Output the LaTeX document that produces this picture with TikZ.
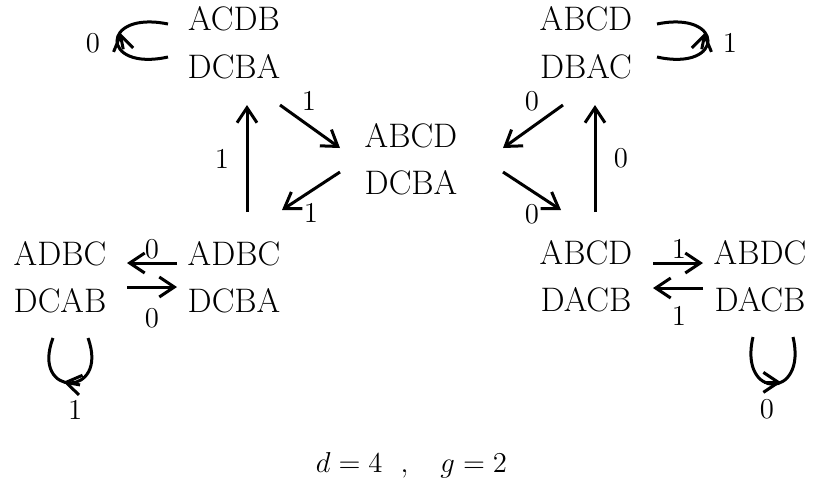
\documentclass[tikz,border=0pt]{standalone}
\usepackage{tikz}
\usetikzlibrary{arrows.meta}
\tikzset{
    perm/.style={
        align=center,inner sep=0pt,outer sep=0pt,
        font=\fontsize{17}{23.75}\selectfont
    },
    lab/.style={inner sep=0pt,font=\fontsize{14.4}{16}\selectfont},
    edge/.style={line width=1.5pt,->},
    plain/.style={line width=1.5pt},
    >={Straight Barb[length=7.5pt,width=10pt]}
}
\begin{document}
\begin{tikzpicture}[x=0.5pt,y=-0.5pt]
\useasboundingbox (0,0) rectangle (815,484);
% states
\node[perm] (tl)  at (234,42.5) {ACDB\\DCBA};
\node[perm] (tr)  at (586,42.5) {ABCD\\DBAC};
\node[perm] (mid) at (411,159)  {ABCD\\DCBA};
\node[perm] (bl)  at (234,277)  {ADBC\\DCBA};
\node[perm] (bll) at (60,277)   {ADBC\\DCAB};
\node[perm] (br)  at (586,276)  {ABCD\\DACB};
\node[perm] (brr) at (760,276)  {ABDC\\DACB};
\node[lab,font=\fontsize{15}{18}\selectfont] (dg) at (411.5,465) {$d=4\ \ ,\ \ \ g=2$};
% left half
\draw[edge] ([shift={(46,62.5)}]tl.center) -- node[lab,pos=.3,shift={(11,-17)}] (e1) {1} ([shift={(-71,-11)}]mid.center);
\draw[edge] ([shift={(-71,13)}]mid.center) -- node[lab,pos=.5,shift={(0,22)}] (e2) {1} ([shift={(48,-67)}]bl.center);
\draw[edge] ([shift={(13,-65)}]bl.center) -- node[lab,pos=.5,shift={(-25,0)}] (e3) {1} ([shift={(13,62.5)}]tl.center);
\draw[edge] ([shift={(-57,-14)}]bl.center) -- node[lab,pos=.5,shift={(0,-14)}] (e7) {0} ([shift={(67,-14)}]bll.center);
\draw[edge] ([shift={(67,10)}]bll.center) -- node[lab,pos=.5,shift={(0,31)}] (e8) {0} ([shift={(-57,10)}]bl.center);
% right half
\draw[edge] ([shift={(-23,62.5)}]tr.center) -- node[lab,pos=.3,shift={(-13,-17)}] (e4) {0} ([shift={(92,-11)}]mid.center);
\draw[edge] ([shift={(92,13)}]mid.center) -- node[lab,pos=.5,shift={(0,23)}] (e5) {0} ([shift={(-25,-66)}]br.center);
\draw[edge] ([shift={(9,-64)}]br.center) -- node[lab,pos=.5,shift={(26,0)}] (e6) {0} ([shift={(9,62.5)}]tr.center);
\draw[edge] ([shift={(67,-13)}]br.center) -- node[lab,pos=.5,shift={(1,-14)}] (e9) {1} ([shift={(-57,-13)}]brr.center);
\draw[edge] ([shift={(-57,12)}]brr.center) -- node[lab,pos=.5,shift={(1,28)}] (e10) {1} ([shift={(67,12)}]br.center);
% loops, the head put on by a short piece
\draw[plain] ([shift={(-66,14.5)}]tl.center) .. controls +(-68,15) and +(-68,-14) .. ([shift={(-66,-18.5)}]tl.center)
    coordinate[pos=.62] (k1) node[lab,pos=.5,shift={(-24,2)}] (o1) {0};
\draw[edge] ([shift={(3.3,16.7)}]k1) -- (k1);
\draw[plain] ([shift={(71,14.5)}]tr.center) .. controls +(68,15) and +(68,-14) .. ([shift={(71,-18.5)}]tr.center)
    coordinate[pos=.62] (k2) node[lab,pos=.5,shift={(22,2)}] (o2) {1};
\draw[edge] ([shift={(-3.3,16.7)}]k2) -- (k2);
\draw[plain] ([shift={(28,61)}]bll.center) .. controls +(22,60) and +(-23,60) .. ([shift={(-7,61)}]bll.center)
    coordinate[pos=.58] (k3) node[lab,pos=.5,shift={(5,27)}] (o3) {1};
\draw[edge] ([shift={(16.7,3.1)}]k3) -- (k3);
\draw[plain] ([shift={(-7,61)}]brr.center) .. controls +(-15,63) and +(15,63) .. ([shift={(33,61)}]brr.center)
    coordinate[pos=.6] (k4) node[lab,pos=.5,shift={(-6,25)}] (o4) {0};
\draw[edge] ([shift={(-17,0)}]k4) -- (k4);
\end{tikzpicture}
\end{document}
